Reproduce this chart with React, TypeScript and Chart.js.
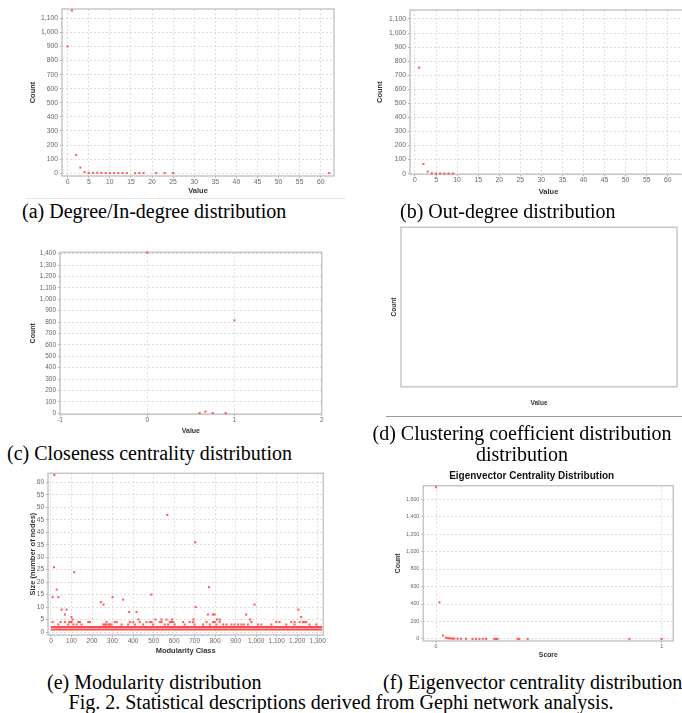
import React, { useEffect, useRef } from "react";
import { Chart, registerables } from "chart.js";

Chart.register(...registerables);

// ---------------- data ----------------
// (a) Degree / In-degree distribution
const degreeValues = [0, 1, 2, 3, 4, 5, 6, 7, 8, 9, 10, 11, 12, 13, 14, 16, 17, 18, 21, 23, 25, 62];
const degreeCounts = [900, 1155, 130, 40, 8, 2, 2, 3, 3, 1, 1, 1, 1, 1, 1, 1, 1, 1, 1, 1, 1, 1];
const valueTicks60 = [0, 5, 10, 15, 20, 25, 30, 35, 40, 45, 50, 55, 60];
const countTicks1100 = [0, 100, 200, 300, 400, 500, 600, 700, 800, 900, 1000, 1100];

// (b) Out-degree distribution
const outDegreeValues = [1, 2, 3, 4, 5, 6, 7, 8, 9];
const outDegreeCounts = [754, 69, 15, 3, 1, 1, 1, 1, 1];

// (c) Closeness centrality distribution
const closenessValues = [0, 0.6, 0.667, 0.75, 0.9, 1];
const closenessCounts = [1410, 2, 15, 2, 2, 815];
const closenessXTicks = [-1, 0, 1, 2];
const closenessYTicks = [0, 100, 200, 300, 400, 500, 600, 700, 800, 900, 1000, 1100, 1200, 1300, 1400];

// (e) Modularity distribution
const modularityOutlierClasses = [16, 15, 8, 28, 36, 52, 76, 68, 100, 105, 113, 243, 256, 300, 352, 381, 417, 426, 489, 567, 703, 705, 770, 765, 789, 797, 809, 951, 971, 992, 1206, 1219];
const modularityOutlierSizes = [63, 26, 14, 17, 14, 9, 9, 7, 6, 5, 24, 12, 11, 14, 13, 8, 8, 5, 15, 47, 36, 10, 18, 7, 7, 7, 5, 7, 5, 11, 9, 6];
const modularitySize5Classes = [509, 539, 563, 590, 695, 822];
const modularitySize4Classes = [8, 47, 68, 89, 96, 100, 133, 141, 182, 190, 271, 311, 320, 384, 401, 433, 466, 482, 490, 530, 539, 579, 587, 595, 644, 676, 692, 758, 790, 798, 822, 977, 1098, 1114, 1171, 1187, 1212, 1228, 1236, 1244];
const modularitySize3Classes = [36, 84, 109, 125, 149, 255, 262, 268, 280, 286, 295, 344, 376, 409, 449, 498, 555, 571, 603, 652, 700, 741, 774, 806, 839, 855, 880, 895, 912, 928, 940, 960, 1009, 1025, 1074, 1147, 1187, 1260, 1293];
const modularityBandSizes = [1, 2];
const modularityClassRange = [0, 1322];
const modularityXTicks = [0, 100, 200, 300, 400, 500, 600, 700, 800, 900, 1000, 1100, 1200, 1300];
const modularityYTicks = [0, 5, 10, 15, 20, 25, 30, 35, 40, 45, 50, 55, 60];

// (f) Eigenvector centrality distribution
const eigenScores = [0, 0.015, 0.031, 0.044, 0.052, 0.059, 0.066, 0.074, 0.081, 0.096, 0.111, 0.133, 0.162, 0.177, 0.192, 0.207, 0.222, 0.258, 0.266, 0.273, 0.362, 0.369, 0.406, 0.857, 1.0];
const eigenCounts = [1735, 420, 40, 15, 10, 8, 6, 5, 4, 3, 2, 2, 1, 1, 1, 1, 1, 1, 1, 1, 1, 1, 1, 1, 1];
const eigenXTicks = [0, 1];
const eigenYTicks = [0, 200, 400, 600, 800, 1000, 1200, 1400, 1600];

// ---------------- styling ----------------
const RED = "rgba(255, 60, 60, 0.8)";
const SANS = "'Liberation Sans', Arial, sans-serif";
const SERIF = "'Liberation Serif', 'Times New Roman', serif";

const pairs = (xs: number[], ys: number[]) => xs.map((x, i) => ({ x, y: ys[i] }));
const level = (xs: number[], y: number) => xs.map((x) => ({ x, y }));

const scatterSet = (data: { x: number; y: number }[]) => ({
  data,
  pointStyle: "rect",
  pointRadius: 1.5,
  pointBorderWidth: 0,
  pointBackgroundColor: RED,
  backgroundColor: RED,
  borderWidth: 0,
  showLine: false,
  clip: false,
});

const bandSet = (y: number) => ({
  data: level(modularityClassRange, y),
  showLine: true,
  borderColor: "rgba(255, 55, 55, 0.9)",
  borderWidth: 2.2,
  pointRadius: 0,
  clip: false,
});

type Rect = { left: number; top: number; right: number; bottom: number };
type Spec = {
  canvas: { left: number; top: number; width: number; height: number };
  plot: Rect;
  x: { min: number; max: number; ticks: number[] | null; title: string; titleY: number };
  y: { min: number; max: number; ticks: number[] | null; title: string; titleX: number };
  tickSize: number;
  titleSize: number;
  chartTitle?: { text: string; y: number; size: number };
  datasets: any[];
};

const specs: Spec[] = [
  {
    canvas: { left: 0, top: 0, width: 341, height: 197 },
    plot: { left: 62, top: 9, right: 334, bottom: 176 },
    x: { min: -1.35, max: 63.15, ticks: valueTicks60, title: "Value", titleY: 191 },
    y: { min: -20, max: 1166, ticks: countTicks1100, title: "Count", titleX: 33 },
    tickSize: 6.8,
    titleSize: 7.5,
    datasets: [scatterSet(pairs(degreeValues, degreeCounts))],
  },
  {
    canvas: { left: 341, top: 0, width: 350, height: 197 },
    plot: { left: 410, top: 10, right: 688, bottom: 174.3 },
    x: { min: -1.18, max: 64.57, ticks: valueTicks60, title: "Value", titleY: 191.7 },
    y: { min: -4.5, max: 1164, ticks: countTicks1100, title: "Count", titleX: 380.3 },
    tickSize: 6.8,
    titleSize: 7.5,
    datasets: [scatterSet(pairs(outDegreeValues, outDegreeCounts))],
  },
  {
    canvas: { left: 0, top: 232, width: 341, height: 205 },
    plot: { left: 60, top: 252.3, right: 321.7, bottom: 414.3 },
    x: { min: -1, max: 2, ticks: closenessXTicks, title: "Value", titleY: 430.7 },
    y: { min: -9, max: 1412, ticks: closenessYTicks, title: "Count", titleX: 32.7 },
    tickSize: 6.5,
    titleSize: 7,
    datasets: [scatterSet(pairs(closenessValues, closenessCounts))],
  },
  {
    canvas: { left: 341, top: 220, width: 341, height: 190 },
    plot: { left: 401, top: 227.3, right: 677, bottom: 386.7 },
    x: { min: 0, max: 1, ticks: null, title: "Value", titleY: 403.3 },
    y: { min: 0, max: 1, ticks: null, title: "Count", titleX: 394.3 },
    tickSize: 6.5,
    titleSize: 6.5,
    datasets: [],
  },
  {
    canvas: { left: 0, top: 465, width: 341, height: 195 },
    plot: { left: 48, top: 473.3, right: 323.3, bottom: 635 },
    x: { min: -14.6, max: 1327.3, ticks: modularityXTicks, title: "Modularity Class", titleY: 651.3 },
    y: { min: -1.2, max: 63.66, ticks: modularityYTicks, title: "Size (number of nodes)", titleX: 33.3 },
    tickSize: 6.5,
    titleSize: 7.5,
    datasets: [
      ...modularityBandSizes.map((s) => bandSet(s)),
      scatterSet(level(modularitySize3Classes, 3)),
      scatterSet(level(modularitySize4Classes, 4)),
      scatterSet(level(modularitySize5Classes, 5)),
      scatterSet(pairs(modularityOutlierClasses, modularityOutlierSizes)),
    ],
  },
  {
    canvas: { left: 390, top: 468, width: 288, height: 195 },
    plot: { left: 423.3, top: 485.7, right: 673.3, bottom: 641 },
    x: { min: -0.0563, max: 1.0516, ticks: eigenXTicks, title: "Score", titleY: 655 },
    y: { min: -23, max: 1753, ticks: eigenYTicks, title: "Count", titleX: 397.7 },
    tickSize: 5.3,
    titleSize: 6.8,
    chartTitle: { text: "Eigenvector Centrality Distribution", y: 476.7, size: 10 },
    datasets: [scatterSet(pairs(eigenScores, eigenCounts))],
  },
];

const plotBorder = {
  id: "plotBorder",
  beforeDatasetsDraw(chart: any) {
    const { ctx, chartArea: a } = chart;
    ctx.save();
    ctx.strokeStyle = "#c6c6c6";
    ctx.lineWidth = 1.5;
    ctx.strokeRect(a.left, a.top, a.right - a.left, a.bottom - a.top);
    ctx.restore();
  },
};

const fmt = (v: any) => Number(v).toLocaleString("en-US");

function buildConfig(spec: Spec): any {
  const { canvas: c, plot: p } = spec;
  const yAxisW = p.left - c.left;
  const xAxisH = c.top + c.height - p.bottom;
  const tLH = spec.titleSize * 1.2;
  const tickFont = { family: SANS, size: spec.tickSize };
  const titleFont = { family: SANS, size: spec.titleSize, weight: "bold" as const };
  const hasTicks = (t: number[] | null) => !!t;

  let layoutTop = p.top - c.top;
  let titlePlugin: any = { display: false };
  if (spec.chartTitle) {
    const lh = spec.chartTitle.size * 1.2;
    const padTop = spec.chartTitle.y - c.top - lh / 2;
    const padBottom = p.top - c.top - padTop - lh;
    titlePlugin = {
      display: true,
      text: spec.chartTitle.text,
      color: "#111",
      font: { family: SANS, size: spec.chartTitle.size, weight: "bold" },
      padding: { top: padTop, bottom: padBottom },
    };
    layoutTop = 0;
  }

  const zeroPad = (s: any) => {
    s.paddingLeft = 0;
    s.paddingRight = 0;
    s.paddingTop = 0;
    s.paddingBottom = 0;
  };

  const axisCommon = (ticks: number[] | null) => ({
    type: "linear",
    afterBuildTicks: (s: any) => {
      if (ticks) s.ticks = ticks.map((v) => ({ value: v }));
    },
    grid: {
      display: hasTicks(ticks),
      color: "#d6d6d6",
      lineWidth: 0.8,
      drawTicks: true,
      tickLength: 2,
      tickColor: "#9a9a9a",
      tickWidth: 0.8,
      tickBorderDash: [],
    },
    border: { display: false, dash: [2, 2] },
    ticks: {
      display: hasTicks(ticks),
      font: tickFont,
      color: "#666",
      maxRotation: 0,
      minRotation: 0,
      autoSkip: false,
      callback: fmt,
    },
  });

  const xBase: any = axisCommon(spec.x.ticks);
  const yBase: any = axisCommon(spec.y.ticks);

  return {
    type: "scatter",
    data: { datasets: spec.datasets },
    options: {
      animation: false,
      responsive: false,
      events: [],
      layout: { padding: { top: layoutTop, right: c.left + c.width - p.right, left: 0, bottom: 0 } },
      plugins: { legend: { display: false }, tooltip: { enabled: false }, title: titlePlugin },
      scales: {
        x: {
          ...xBase,
          position: "bottom",
          min: spec.x.min,
          max: spec.x.max,
          ticks: { ...xBase.ticks, padding: 0 },
          afterFit: (s: any) => {
            s.height = xAxisH;
            zeroPad(s);
          },
          title: {
            display: true,
            text: spec.x.title,
            font: titleFont,
            color: "#333",
            padding: { top: 0, bottom: c.top + c.height - spec.x.titleY - tLH / 2 },
          },
        },
        y: {
          ...yBase,
          position: "left",
          min: spec.y.min,
          max: spec.y.max,
          ticks: { ...yBase.ticks, padding: 2 },
          afterFit: (s: any) => {
            s.width = yAxisW;
            zeroPad(s);
          },
          title: {
            display: true,
            text: spec.y.title,
            font: titleFont,
            color: "#333",
            padding: { top: spec.y.titleX - c.left - tLH / 2, bottom: 0 },
          },
        },
      },
    },
    plugins: [plotBorder],
  };
}

function Panel({ spec }: { spec: Spec }) {
  const ref = useRef<HTMLCanvasElement>(null);
  useEffect(() => {
    const chart = new Chart(ref.current as HTMLCanvasElement, buildConfig(spec));
    return () => chart.destroy();
  }, [spec]);
  const c = spec.canvas;
  return (
    <canvas
      ref={ref}
      width={c.width}
      height={c.height}
      style={{ position: "absolute", left: c.left, top: c.top, width: c.width, height: c.height }}
    />
  );
}

const captions = [
  { text: "(a) Degree/In-degree distribution", left: 22, top: 201 },
  { text: "(b) Out-degree distribution", left: 400, top: 201 },
  { text: "(c) Closeness centrality distribution", left: 7, top: 443 },
  { text: "(e) Modularity distribution", left: 47, top: 672 },
  { text: "(f) Eigenvector centrality distribution", left: 383, top: 672 },
];

export default function App() {
  const capStyle: React.CSSProperties = {
    position: "absolute",
    fontFamily: SERIF,
    fontSize: 20,
    lineHeight: "20px",
    whiteSpace: "nowrap",
    color: "#000",
  };
  return (
    <div
      style={{
        position: "fixed",
        left: 0,
        top: 0,
        width: 682,
        height: 713,
        overflow: "hidden",
        background: "#fff",
      }}
    >
      {specs.map((s, i) => (
        <Panel key={i} spec={s} />
      ))}
      <div style={{ position: "absolute", left: 26, top: 198, width: 320, height: 1, background: "#e4e4e4" }} />
      <div style={{ position: "absolute", left: 386, top: 416, width: 296, height: 1, background: "#9a9a9a" }} />
      {captions.map((c, i) => (
        <div key={i} style={{ ...capStyle, left: c.left, top: c.top }}>
          {c.text}
        </div>
      ))}
      <div style={{ ...capStyle, left: 322, top: 423, width: 400, textAlign: "center", lineHeight: "21px" }}>
        (d) Clustering coefficient distribution
        <br />
        distribution
      </div>
      <div style={{ ...capStyle, left: 0, top: 692, width: 682, textAlign: "center" }}>
        Fig. 2. Statistical descriptions derived from Gephi network analysis.
      </div>
    </div>
  );
}
